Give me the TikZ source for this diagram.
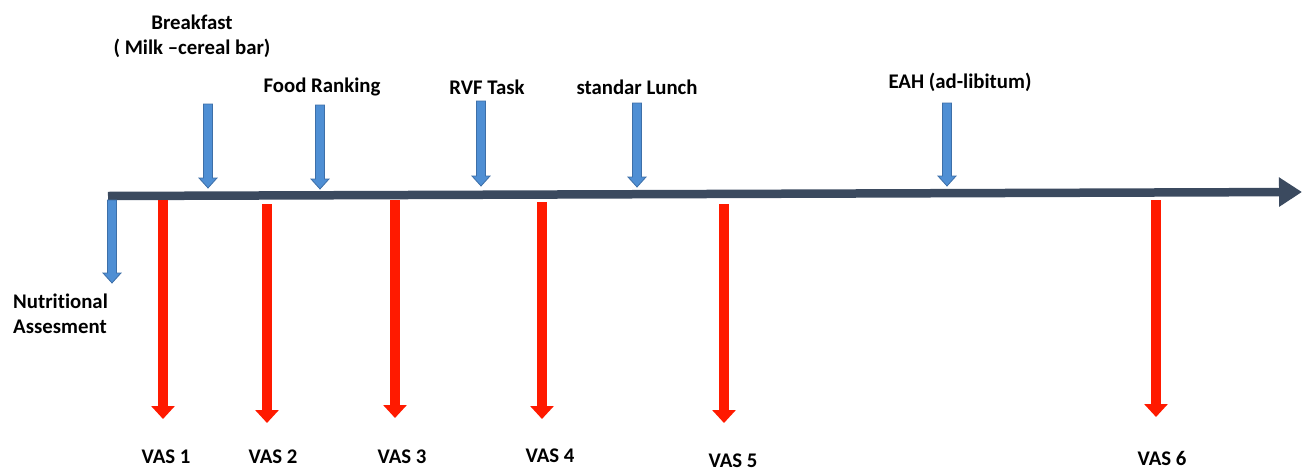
\documentclass[tikz,border=0pt]{standalone}
\usepackage{fontspec}
\setmainfont[Ligatures=NoCommon]{Carlito}
\usetikzlibrary{arrows.meta}
\definecolor{tline}{HTML}{3B4A5F}
\definecolor{bfill}{HTML}{4F8FD4}
\definecolor{bedge}{HTML}{3D6FA8}
\definecolor{rarr}{HTML}{FF1A00}
\tikzset{
  lbl/.style={font=\bfseries\fontsize{20.8}{25}\selectfont, inner sep=0pt, text=black},
  bluebox/.style={fill=bfill, draw=bedge, line width=0.8pt, line join=miter},
  redarr/.style={draw=rarr, line width=10.5pt, -{Triangle[length=13pt,width=23pt]}},
  timeline/.style={draw=tline, line width=8.5pt, -{Triangle[length=23pt,width=28pt]}}
}
\newcommand\bluedown[3]{%
  \path[bluebox] (#1-4.5,#2) -- (#1+4.5,#2) -- (#1+4.5,#3-10) -- (#1+9,#3-10) -- (#1,#3) -- (#1-9,#3-10) -- (#1-4.5,#3-10) -- cycle;}
\begin{document}
\begin{tikzpicture}[x=1pt,y=-1pt]
\useasboundingbox (0,0) rectangle (1303,472);
% timeline
\coordinate (tl) at (108,196);
\coordinate (tr) at (1302,192);
\draw[timeline] (tl) -- (tr);
% blue event arrows
\bluedown{208}{104}{188}
\bluedown{320}{105}{189}
\bluedown{481}{101}{186}
\bluedown{637}{103}{187}
\bluedown{947}{103}{186}
\bluedown{112}{200}{283}
% labels above
\node[lbl, align=center] (bf) at (192,36) {Breakfast\\( Milk –cereal bar)};
\node[lbl] (fr) at (322,87) {Food Ranking};
\node[lbl] (rvf) at (487,87) {RVF Task};
\node[lbl] (sl) at (637,87) {standar Lunch};
\node[lbl] (eah) at (960,82) {EAH (ad-libitum)};
\node[lbl, align=left, anchor=west] (na) at (13,314) {Nutritional\\Assesment};
% red VAS arrows
\coordinate (r1t) at (163,200); \coordinate (r1b) at (163,419);
\coordinate (r2t) at (267,204); \coordinate (r2b) at (267,423);
\coordinate (r3t) at (395,200); \coordinate (r3b) at (395,418);
\coordinate (r4t) at (542,202); \coordinate (r4b) at (542,419);
\coordinate (r5t) at (724,204); \coordinate (r5b) at (724,423);
\coordinate (r6t) at (1156,200); \coordinate (r6b) at (1156,417);
\foreach \i in {1,...,6} {\draw[redarr] (r\i t) -- (r\i b);}
% VAS labels
\node[lbl] (v1) at (166,457) {VAS 1};
\node[lbl] (v2) at (273,457) {VAS 2};
\node[lbl] (v3) at (402,457) {VAS 3};
\node[lbl] (v4) at (550,456) {VAS 4};
\node[lbl] (v5) at (733,461) {VAS 5};
\node[lbl] (v6) at (1162,458) {VAS 6};
\end{tikzpicture}
\end{document}
